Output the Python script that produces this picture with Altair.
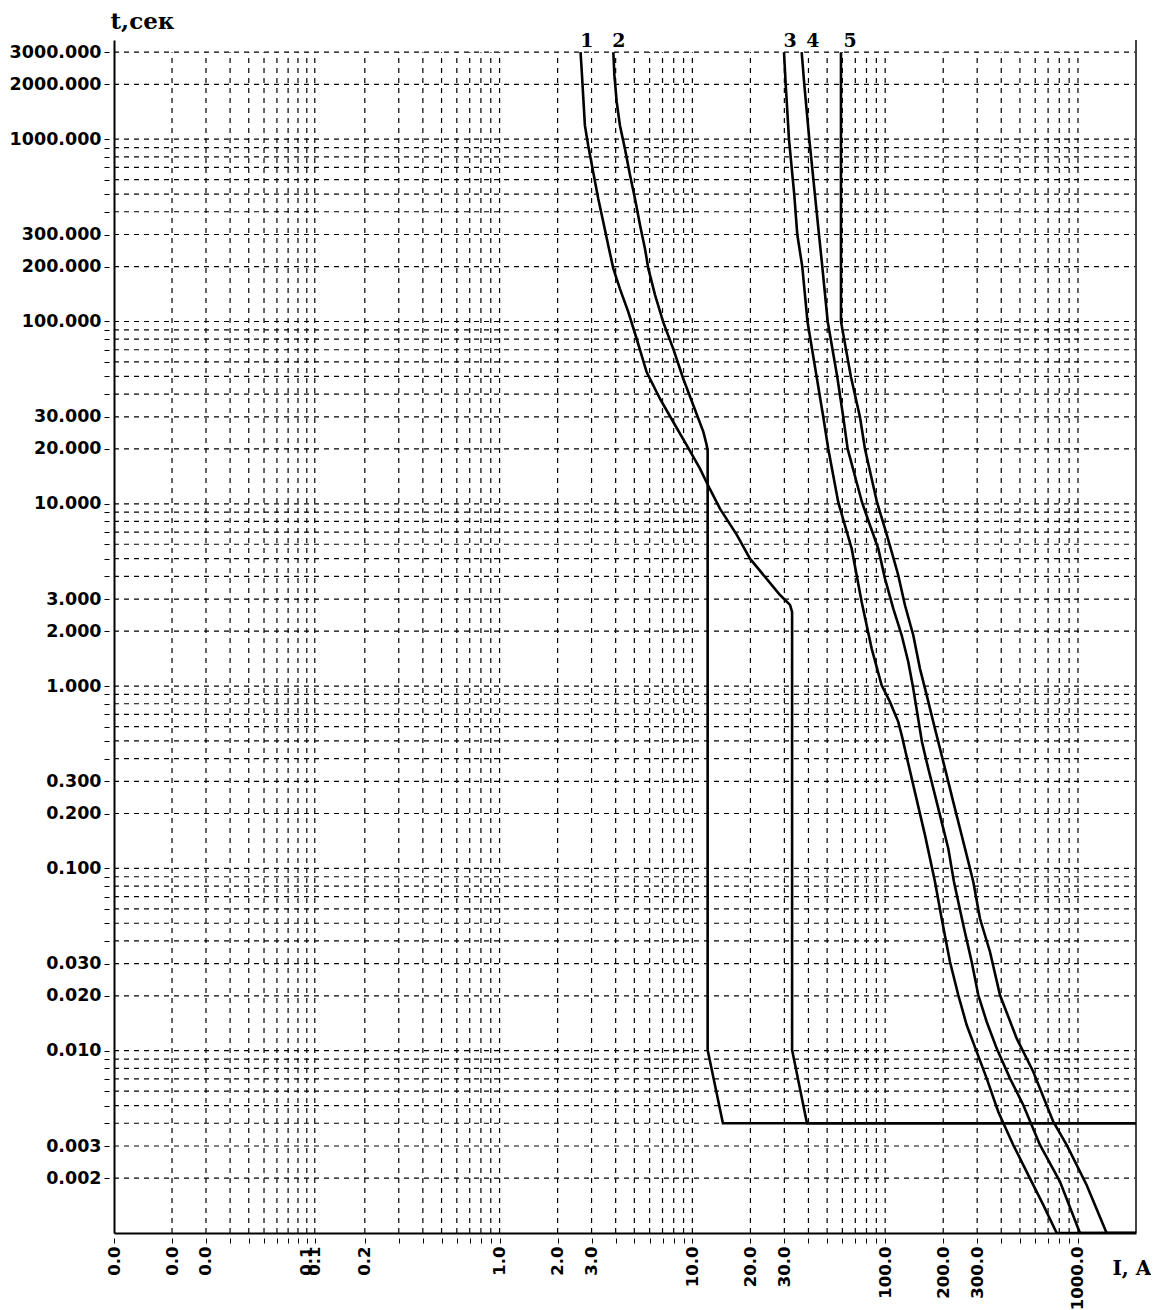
import json
import altair as alt
import pandas as pd

# ---------------- axis / grid values ----------------
x_grid = sorted([round(m * 10.0 ** e, 4) for e in range(-2, 3) for m in range(1, 10)] + [0.11, 1000.0])
x_label_values = [0.01, 0.02, 0.03, 0.1, 0.11, 0.2, 1.0, 2.0, 3.0, 10.0, 20.0, 30.0,
                  100.0, 200.0, 300.0, 1000.0]
y_grid = [round(m * 10.0 ** e, 4) for e in range(-3, 3) for m in range(1, 10)] + [1000.0, 2000.0, 3000.0]
y_grid = [v for v in y_grid if v > 0.001]
y_label_values = [0.002, 0.003, 0.01, 0.02, 0.03, 0.1, 0.2, 0.3, 1.0, 2.0, 3.0, 10.0, 20.0, 30.0,
                  100.0, 200.0, 300.0, 1000.0, 2000.0, 3000.0]

x_min, x_max = 0.01, 2000.0
y_min, y_top_grid, y_max = 0.001, 3000.0, 3500.0

# ---------------- curves (I in A, t in s) ----------------
c1_I = [2.63, 2.67, 2.72, 2.77, 2.88, 3.06, 3.25, 3.45, 3.66, 3.89, 4.21, 4.65, 5.14, 5.79, 6.79,
        7.96, 9.34, 10.95, 12.3, 13.9, 17.0, 19.9, 28.5, 32.1, 32.9, 32.9, 39.3, 2000]
c1_t = [3000, 2330, 1660, 1190, 927, 659, 471, 351, 262, 195, 151, 113, 80.4, 52.8, 37.7,
        28.1, 21.0, 15.6, 12.1, 9.4, 6.75, 5.0, 3.16, 2.79, 2.55, 0.0101, 0.004, 0.004]

c2_I = [3.89, 3.94, 4.05, 4.21, 4.47, 4.75, 5.04, 5.35, 5.68, 5.91, 6.40, 7.06, 7.96, 8.97, 10.1,
        11.4, 11.86, 12.0, 12.0, 14.4, 2000]
c2_t = [3000, 2240, 1600, 1190, 885, 635, 471, 338, 250, 195, 140, 99.2, 70.8, 48.5, 34.8,
        24.8, 21.0, 19.5, 0.0101, 0.004, 0.004]

c3_I = [29.87, 30.48, 31.70, 33.78, 35.01, 37.15, 39.54, 44.13, 47.75, 50.69, 57.10, 67.03, 75.53,
        85.11, 95.90, 105.9, 116.9, 121.8, 139.9, 160.9, 181.3, 196.3, 216.8, 239.4, 264.7, 298.2,
        336.1, 386.0, 461.7, 563.6, 660.7, 775.3, 2000]
c3_t = [3000, 2000, 1000, 493, 300, 200, 100, 49.6, 29.9, 20.0, 10.2, 5.674, 2.894,
        1.606, 1.011, 0.819, 0.6365, 0.538, 0.2862, 0.1523, 0.08444, 0.0531, 0.03075, 0.0202, 0.01383, 0.00988,
        0.00705, 0.00463, 0.00304, 0.001995, 0.001426, 0.001, 0.001]

c4_I = [36.89, 38.06, 40.40, 43.24, 45.36, 47.19, 50.33, 56.44, 60.62, 63.90, 75.81, 83.41, 92.10,
        99.77, 110.2, 121.8, 131.8, 139.4, 155.2, 167.3, 181.3, 196.3, 212.5, 227.4, 254.2, 281.0,
        304.0, 336.1, 378.7, 443.9, 520.4, 635.2, 806.3, 1024, 2000]
c4_t = [3000, 2000, 1000, 493, 300, 200, 100, 49.6, 29.9, 20.0, 10.2, 7.624, 5.674,
        3.886, 2.660, 1.901, 1.357, 0.99, 0.494, 0.3529, 0.2522, 0.1801, 0.1285, 0.08444, 0.04888, 0.03075,
        0.0202, 0.01442, 0.0103, 0.00705, 0.005039, 0.00304, 0.001913, 0.001, 0.001]

c5_I = [58.99, 58.99, 66.46, 74.01, 78.57, 90.69, 99.77, 108.1, 116.9, 126.7, 139.9, 151.5, 164.2,
        177.6, 192.4, 208.4, 225.5, 244.3, 264.7, 286.4, 310.2, 349.6, 393.9, 481.0, 586.4, 744.6,
        873.7, 1109, 1408, 2000]
c5_t = [3000, 100, 49.6, 29.9, 20.0, 10.2, 7.303, 5.441, 4.055, 2.777, 1.901, 1.247, 0.8916,
        0.6365, 0.4545, 0.3248, 0.2318, 0.1655, 0.1183, 0.08444, 0.0531, 0.0349, 0.0202, 0.01168, 0.00767,
        0.00408, 0.00304, 0.001835, 0.001, 0.001]

curve_names = ["1", "2", "3", "4", "5"]
label_I = [2.84, 4.16, 32.1, 42.2, 65.7]
label_t = [3000, 3000, 3000, 3000, 3000]

# ---------------- tables ----------------
rows = []
for name, xs_, ts_ in zip(curve_names, [c1_I, c2_I, c3_I, c4_I, c5_I], [c1_t, c2_t, c3_t, c4_t, c5_t]):
    for i, (a, b) in enumerate(zip(xs_, ts_)):
        rows.append({"curve": name, "seq": i, "I": a, "t": b})
curves_df = pd.DataFrame(rows)

vgrid_df = pd.DataFrame({"I": [v for v in x_grid if v > x_min], "t": y_min, "t2": y_top_grid})
hgrid_df = pd.DataFrame({"t": y_grid, "I": x_min, "I2": x_max})
border_df = pd.DataFrame({"I": [x_max], "t": [y_min], "t2": [y_max]})
labels_df = pd.DataFrame({"name": curve_names, "I": label_I, "t": label_t})

xs = alt.Scale(type="log", domain=[x_min, x_max], nice=False)
ys = alt.Scale(type="log", domain=[y_min, y_max], nice=False)

x_expr = f"indexof({json.dumps(x_label_values)}, datum.value) >= 0 ? format(datum.value, '.1f') : ''"
y_expr = f"indexof({json.dumps(y_label_values)}, datum.value) >= 0 ? format(datum.value, '.3f') : ''"

x_axis = alt.Axis(
    values=x_grid, labelExpr=x_expr, labelAngle=270, labelAlign="right", labelBaseline="middle",
    labelOverlap=False, labelFlush=False, labelPadding=3, labelFontSize=16.5,
    tickSize=10, tickDash=[0, 5, 5], tickColor="black", tickWidth=1,
    grid=False, domainColor="black", domainWidth=2,
    title="I, A", titleAngle=0, titleAlign="left", titleBaseline="alphabetic",
    titleX=998, titleY=41, titleFont="DejaVu Serif", titleFontSize=20,
    titleFontWeight="bold", titleColor="black",
)
y_axis = alt.Axis(
    values=y_grid, labelExpr=y_expr, labelOverlap=False, labelFlush=False, labelPadding=3,
    labelFontSize=17.5,
    tickSize=10, tickDash=[0, 5, 5], tickColor="black", tickWidth=1,
    grid=False, domainColor="black", domainWidth=2,
    title="t,сек", titleAngle=0, titleAlign="left", titleBaseline="alphabetic",
    titleX=-4, titleY=-12, titleFont="DejaVu Serif", titleFontSize=23,
    titleFontWeight="bold", titleColor="black",
)

X = lambda f="I": alt.X(f"{f}:Q", scale=xs, axis=x_axis)
Y = lambda f="t": alt.Y(f"{f}:Q", scale=ys, axis=y_axis)

vgrid = alt.Chart(vgrid_df).mark_rule(color="black", strokeWidth=1.2, strokeDash=[5, 5]).encode(
    x=X(), y=Y(), y2="t2:Q",
)
hgrid = alt.Chart(hgrid_df).mark_rule(color="black", strokeWidth=1.2, strokeDash=[5, 5]).encode(
    y=Y(), x=X(), x2="I2:Q",
)
border = alt.Chart(border_df).mark_rule(color="#444444", strokeWidth=2).encode(
    x=X(), y=Y(), y2="t2:Q",
)
lines = alt.Chart(curves_df).mark_line(color="black", strokeWidth=2.6, clip=True).encode(
    x=X(), y=Y(), detail="curve:N", order="seq:Q",
)
texts = alt.Chart(labels_df).mark_text(
    font="DejaVu Serif", fontWeight="bold", fontSize=19, color="black",
    align="center", baseline="alphabetic", dy=-5,
).encode(
    x=X(), y=Y(), text="name:N",
)

chart = alt.layer(vgrid, hgrid, border, lines, texts).properties(
    width=1022, height=1193,
    padding={"left": 1, "top": 2, "right": 0, "bottom": 0},
).configure_view(stroke=None).configure_axis(
    labelFont="DejaVu Sans", labelFontWeight="bold", labelColor="black",
)

chart.save("out.html", embed_options={"renderer": "svg", "actions": False})
